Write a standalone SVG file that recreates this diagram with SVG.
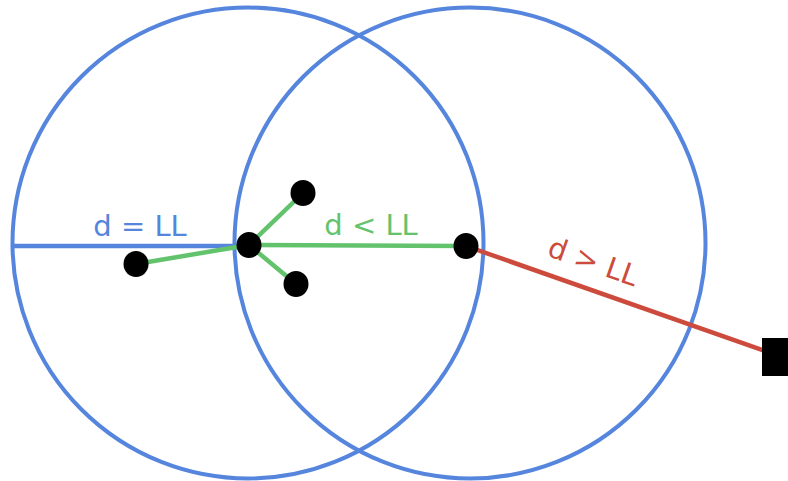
<svg xmlns="http://www.w3.org/2000/svg" width="788" height="481" viewBox="0 0 788 481">
<style>
.ring{fill:none;stroke:#5585DD;stroke-width:4}
.node{fill:#000}
.lbl{font-family:"DejaVu Sans",sans-serif;font-size:29px;text-anchor:middle}
</style>
<rect width="788" height="481" fill="#fff"/>
<g id="rings">
<circle id="ring-left" class="ring" cx="248" cy="243" r="235.5"/>
<circle id="ring-right" class="ring" cx="470" cy="243" r="235.5"/>
</g>
<g id="connectors" stroke-linecap="round" fill="none">
<line x1="13" y1="246" x2="249" y2="246" stroke="#5585DD" stroke-width="4.5"/>
<line x1="249" y1="245" x2="466" y2="246" stroke="#63C36D" stroke-width="4.5"/>
<line x1="249" y1="245" x2="136" y2="264" stroke="#63C36D" stroke-width="4.5"/>
<line x1="249" y1="245" x2="303" y2="193" stroke="#63C36D" stroke-width="4.5"/>
<line x1="249" y1="245" x2="296" y2="284" stroke="#63C36D" stroke-width="4.5"/>
<line x1="466" y1="246" x2="765" y2="351" stroke="#CC4B3C" stroke-width="4.5"/>
</g>
<g id="n-center"><ellipse class="node" cx="249" cy="245" rx="12.5" ry="13"/></g>
<g id="n-left"><ellipse class="node" cx="136" cy="264" rx="12.5" ry="13"/></g>
<g id="n-top"><ellipse class="node" cx="303" cy="193" rx="12.5" ry="13"/></g>
<g id="n-bottom"><ellipse class="node" cx="296" cy="284" rx="12.5" ry="13"/></g>
<g id="n-right"><ellipse class="node" cx="466" cy="246" rx="12.5" ry="13"/></g>
<g id="n-square"><rect class="node" x="762" y="338" width="30" height="38"/></g>
<g id="labels">
<text class="lbl" x="140" y="236" fill="#5585DD">d = LL</text>
<text class="lbl" x="371" y="235" fill="#63C36D">d &lt; LL</text>
<text class="lbl" x="590" y="271" fill="#CC4B3C" transform="rotate(19.5 590 271)">d &gt; LL</text>
</g>
</svg>
